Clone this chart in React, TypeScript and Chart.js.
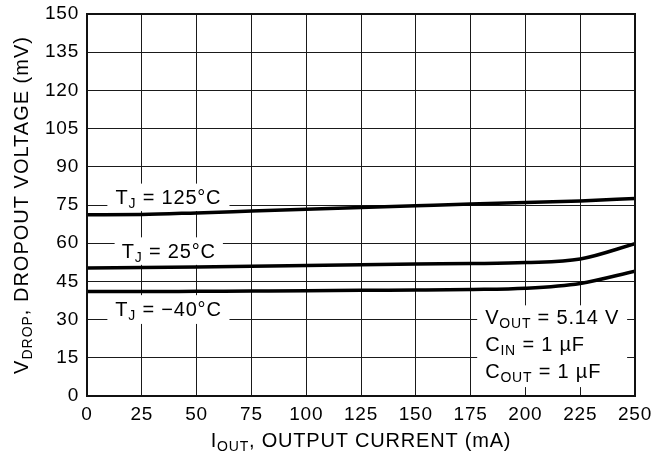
import React, { useEffect, useRef } from "react";
import { Chart, registerables } from "chart.js";

Chart.register(...registerables);

// ---- data ----
const currents = [0, 25, 50, 75, 100, 125, 150, 175, 200, 225, 250];
const tj125 = [71.2, 71.3, 71.9, 72.6, 73.3, 74.0, 74.7, 75.4, 76.0, 76.6, 77.6];
const tj25 = [50.3, 50.5, 50.7, 50.9, 51.2, 51.5, 51.8, 52.0, 52.4, 53.8, 59.8];
const tjm40 = [41.0, 41.0, 41.1, 41.2, 41.3, 41.5, 41.6, 41.8, 42.3, 44.2, 49.0];
const xTickValues = [0, 25, 50, 75, 100, 125, 150, 175, 200, 225, 250];
const yTickValues = [0, 15, 30, 45, 60, 75, 90, 105, 120, 135, 150];

const FONT = '"Liberation Sans", Arial, Helvetica, sans-serif';

type Seg = { t: string; sub?: boolean };

function segWidth(ctx: CanvasRenderingContext2D, segs: Seg[], size: number) {
  let w = 0;
  for (const s of segs) {
    ctx.font = `${s.sub ? Math.round(size * 0.72) : size}px ${FONT}`;
    w += ctx.measureText(s.t).width;
  }
  return w;
}

function drawRich(
  ctx: CanvasRenderingContext2D,
  segs: Seg[],
  x: number,
  y: number,
  size: number,
  align: "left" | "center"
) {
  const w = segWidth(ctx, segs, size);
  let cx = align === "center" ? x - w / 2 : x;
  ctx.textAlign = "left";
  ctx.textBaseline = "alphabetic";
  for (const s of segs) {
    ctx.font = `${s.sub ? Math.round(size * 0.72) : size}px ${FONT}`;
    ctx.fillText(s.t, cx, y + (s.sub ? size * 0.2 : 0));
    cx += ctx.measureText(s.t).width;
  }
}

const tempLabels: { segs: Seg[]; x0: number; x1: number; y0: number; y1: number }[] = [
  { segs: [{ t: "T" }, { t: "J", sub: true }, { t: " = 125°C" }], x0: 9.3, x1: 65, y0: 72.6, y1: 83.4 },
  { segs: [{ t: "T" }, { t: "J", sub: true }, { t: " = 25°C" }], x0: 12.6, x1: 62, y0: 51.5, y1: 62.3 },
  { segs: [{ t: "T" }, { t: "J", sub: true }, { t: " = \u221240°C" }], x0: 9.3, x1: 65, y0: 28.3, y1: 39.6 },
];

const infoLines: Seg[][] = [
  [{ t: "V" }, { t: "OUT", sub: true }, { t: " = 5.14 V" }],
  [{ t: "C" }, { t: "IN", sub: true }, { t: " = 1 \u00b5F" }],
  [{ t: "C" }, { t: "OUT", sub: true }, { t: " = 1 \u00b5F" }],
];
const infoBox = { x0: 178, x1: 246.4, y0: 3.5, y1: 35.6 };

const spacingPlugin = {
  id: "spacing",
  beforeDraw(chart: any) {
    (chart.ctx as any).letterSpacing = "0.8px";
  },
};

const annotPlugin = {
  id: "annots",
  beforeDatasetsDraw(chart: any) {
    const ctx: CanvasRenderingContext2D = chart.ctx;
    const xs = chart.scales.x;
    const ys = chart.scales.y;
    ctx.save();
    (ctx as any).letterSpacing = "0.8px";
    for (const l of tempLabels) {
      const px0 = xs.getPixelForValue(l.x0);
      const px1 = xs.getPixelForValue(l.x1);
      const py0 = ys.getPixelForValue(l.y1);
      const py1 = ys.getPixelForValue(l.y0);
      ctx.fillStyle = "#fff";
      ctx.fillRect(px0, py0, px1 - px0, py1 - py0);
      ctx.fillStyle = "#000";
      drawRich(ctx, l.segs, (px0 + px1) / 2, (py0 + py1) / 2 + 6.5, 20, "center");
    }
    const bx0 = xs.getPixelForValue(infoBox.x0);
    const bx1 = xs.getPixelForValue(infoBox.x1);
    const by0 = ys.getPixelForValue(infoBox.y1);
    const by1 = ys.getPixelForValue(infoBox.y0);
    ctx.fillStyle = "#fff";
    ctx.fillRect(bx0, by0, bx1 - bx0, by1 - by0);
    ctx.fillStyle = "#000";
    infoLines.forEach((segs, i) => {
      drawRich(ctx, segs, bx0 + 8, by0 + 19 + i * 26.7, 20, "left");
    });
    ctx.restore();
  },
  afterDraw(chart: any) {
    const ctx: CanvasRenderingContext2D = chart.ctx;
    const a = chart.chartArea;
    ctx.save();
    ctx.strokeStyle = "#111";
    ctx.lineWidth = 2;
    ctx.strokeRect(a.left, a.top, a.right - a.left, a.bottom - a.top);
    ctx.fillStyle = "#000";
    (ctx as any).letterSpacing = "0.8px";
    drawRich(
      ctx,
      [{ t: "I" }, { t: "OUT", sub: true }, { t: ", OUTPUT CURRENT (mA)" }],
      (a.left + a.right) / 2,
      447,
      20,
      "center"
    );
    (ctx as any).letterSpacing = "1px";
    ctx.translate(28, (a.top + a.bottom) / 2);
    ctx.rotate(-Math.PI / 2);
    drawRich(
      ctx,
      [{ t: "V" }, { t: "DROP", sub: true }, { t: ", DROPOUT VOLTAGE (mV)" }],
      0,
      0,
      20,
      "center"
    );
    ctx.restore();
  },
};

export default function App() {
  const ref = useRef<HTMLCanvasElement | null>(null);
  useEffect(() => {
    document.body.style.margin = "0";
    if (!ref.current) return;
    const mk = (data: number[]) => ({
      data: currents.map((x, i) => ({ x, y: data[i] })),
      borderColor: "#000",
      borderWidth: 3.5,
      pointRadius: 0,
      cubicInterpolationMode: "monotone" as const,
      fill: false,
    });
    const chart = new Chart(ref.current, {
      type: "line",
      data: {
        datasets: [
          { label: "TJ = 125°C", ...mk(tj125) },
          { label: "TJ = 25°C", ...mk(tj25) },
          { label: "TJ = -40°C", ...mk(tjm40) },
        ],
      },
      options: {
        animation: false,
        responsive: false,
        layout: { padding: { left: 0, right: 19, top: 14, bottom: 0 } },
        plugins: { legend: { display: false }, tooltip: { enabled: false } },
        scales: {
          x: {
            type: "linear",
            min: 0,
            max: 250,
            afterBuildTicks: (s: any) => {
              s.ticks = xTickValues.map((v) => ({ value: v }));
            },
            afterFit: (s: any) => {
              s.height = 70;
              s.paddingLeft = 0;
              s.paddingRight = 0;
            },
            grid: { color: "#1a1a1a", lineWidth: 1, drawTicks: false },
            border: { display: false },
            ticks: {
              color: "#000",
              padding: 7,
              maxRotation: 0,
              autoSkip: false,
              font: { family: FONT, size: 19 },
            },
          },
          y: {
            type: "linear",
            min: 0,
            max: 150,
            afterBuildTicks: (s: any) => {
              s.ticks = yTickValues.map((v) => ({ value: v }));
            },
            afterFit: (s: any) => {
              s.width = 87;
              s.paddingTop = 0;
              s.paddingBottom = 0;
            },
            grid: { color: "#1a1a1a", lineWidth: 1, drawTicks: false },
            border: { display: false },
            ticks: {
              color: "#000",
              padding: 8,
              autoSkip: false,
              font: { family: FONT, size: 19 },
            },
          },
        },
      },
      plugins: [spacingPlugin, annotPlugin],
    });
    return () => chart.destroy();
  }, []);
  return <canvas ref={ref} width={654} height={466} style={{ display: "block" }} />;
}
